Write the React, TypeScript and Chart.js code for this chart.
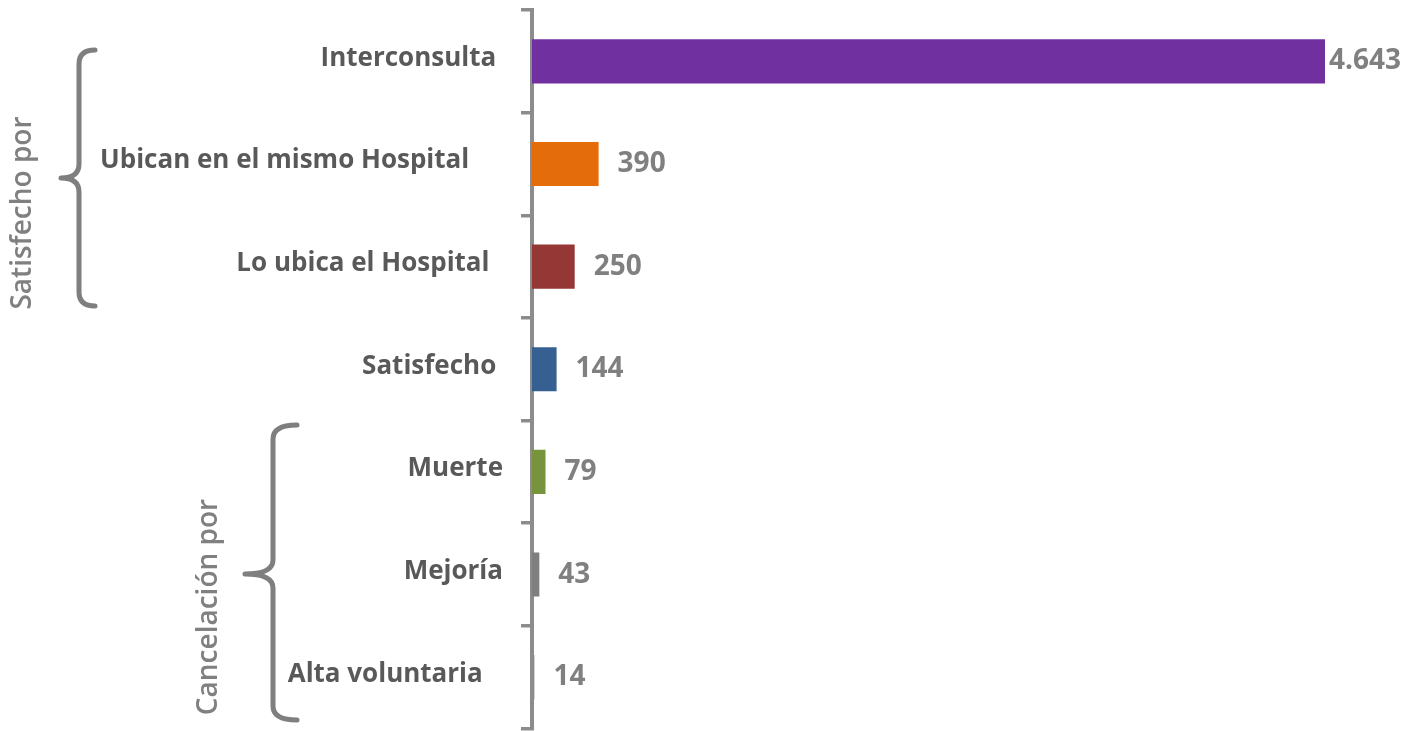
import React, { useEffect, useRef } from "react";
import { Chart, registerables } from "chart.js";

Chart.register(...registerables);

const categories = [
  "Interconsulta ",
  "Ubican en el mismo Hospital     ",
  "Lo ubica el Hospital  ",
  "Satisfecho ",
  "Muerte",
  "Mejoría",
  "Alta voluntaria   ",
];
const values = [4643, 390, 250, 144, 79, 43, 14];
const barColors = ["#7030A0", "#E46C0A", "#953735", "#376092", "#77933C", "#7F7F7F", "#8C8C8C"];
const groupLabels = ["Satisfecho por", "Cancelación por"];

const fmt = (v: number) => String(v).replace(/\B(?=(\d{3})+(?!\d))/g, ".");

const FONT = "'Open Sans', 'Noto Sans', sans-serif";

const decorPlugin = {
  id: "decor",
  afterDraw(chart: any) {
    const ctx = chart.ctx;
    const meta = chart.getDatasetMeta(0);
    ctx.save();
    // data labels
    ctx.font = `bold 28px ${FONT}`;
    ctx.fillStyle = "#808080";
    ctx.textBaseline = "middle";
    ctx.textAlign = "left";
    meta.data.forEach((bar: any, i: number) => {
      const t = fmt(values[i]);
      const w = ctx.measureText(t).width;
      let x = bar.x + 19;
      if (x + w > chart.width - 15) x = chart.width - 15 - w;
      ctx.fillText(t, x, bar.y);
    });
    // braces
    const brace = (xv: number, xEnd: number, xTip: number, top: number, tip: number, bottom: number) => {
      const r = 14;
      ctx.beginPath();
      ctx.moveTo(xEnd, top);
      ctx.quadraticCurveTo(xv, top, xv, top + r);
      ctx.lineTo(xv, tip - r);
      ctx.quadraticCurveTo(xv, tip, xTip, tip);
      ctx.quadraticCurveTo(xv, tip, xv, tip + r);
      ctx.lineTo(xv, bottom - r);
      ctx.quadraticCurveTo(xv, bottom, xEnd, bottom);
      ctx.stroke();
    };
    ctx.strokeStyle = "#7F7F7F";
    ctx.lineWidth = 5;
    ctx.lineCap = "round";
    ctx.lineJoin = "round";
    brace(79, 95, 61, 50, 178, 306);
    brace(273, 297, 245, 425, 574, 720);
    // group labels
    ctx.font = `600 28px ${FONT}`;
    ctx.fillStyle = "#808080";
    ctx.textAlign = "center";
    ctx.textBaseline = "middle";
    const vtext = (t: string, x: number, y: number) => {
      ctx.save();
      ctx.translate(x, y);
      ctx.rotate(-Math.PI / 2);
      ctx.fillText(t, 0, 0);
      ctx.restore();
    };
    vtext(groupLabels[0], 23, 213);
    vtext(groupLabels[1], 209, 607);
    ctx.restore();
  },
};

export default function App() {
  const ref = useRef<HTMLCanvasElement | null>(null);
  useEffect(() => {
    if (!ref.current) return;
    const chart = new Chart(ref.current, {
      type: "bar",
      data: {
        labels: categories,
        datasets: [
          {
            data: values,
            backgroundColor: barColors,
            borderWidth: 0,
            barPercentage: 0.43,
            categoryPercentage: 1,
          },
        ],
      },
      options: {
        indexAxis: "y",
        animation: false,
        responsive: true,
        maintainAspectRatio: false,
        layout: { padding: { top: 10, bottom: 2.5, right: 30, left: 0 } },
        plugins: { legend: { display: false }, tooltip: { enabled: false } },
        scales: {
          x: { display: false, min: 0, max: 5000 },
          y: {
            z: 1,
            afterFit: (s: any) => {
              s.width = 532;
              s.paddingTop = 0;
              s.paddingBottom = 0;
            },
            grid: {
              offset: true,
              drawOnChartArea: false,
              drawTicks: true,
              tickLength: 11,
              color: "#8C8C8C",
              lineWidth: 3.5,
            },
            border: { display: true, color: "#8C8C8C", width: 4 },
            ticks: {
              color: "#595959",
              font: { family: FONT, size: 26, weight: "bold" },
              padding: 18,
              labelOffset: -3,
              autoSkip: false,
            },
          },
        },
      },
      plugins: [decorPlugin],
    });
    return () => chart.destroy();
  }, []);
  return (
    <div style={{ position: "absolute", left: 0, top: 0, width: 1416, height: 731, background: "#fff" }}>
      <canvas ref={ref} />
    </div>
  );
}
